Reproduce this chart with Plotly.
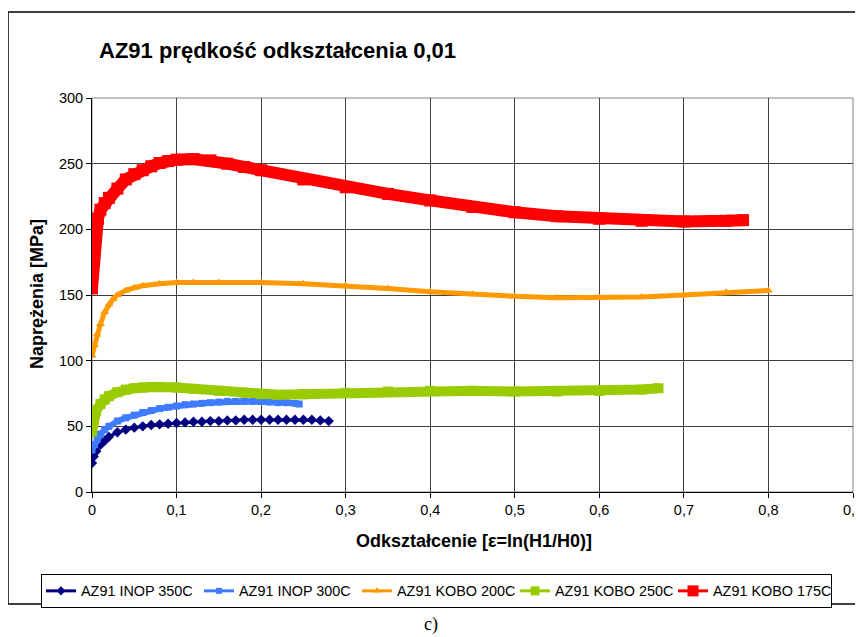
import plotly.graph_objects as go

# ---- data ----
names = ["AZ91 INOP 350C", "AZ91 INOP 300C", "AZ91 KOBO 200C", "AZ91 KOBO 250C", "AZ91 KOBO 175C"]

x_inop350 = [0, 0.002, 0.005, 0.01, 0.015, 0.02, 0.03, 0.04, 0.05, 0.06, 0.07, 0.08, 0.09, 0.1,
             0.11, 0.12, 0.13, 0.14, 0.15, 0.16, 0.17, 0.18, 0.19, 0.2, 0.21, 0.22, 0.23, 0.24,
             0.25, 0.26, 0.27, 0.28]
y_inop350 = [22, 27, 31, 36, 39, 42, 45.5, 47.5, 49, 50, 51, 51.5, 52, 52.5,
             53, 53.5, 53.5, 54, 54, 54.5, 54.5, 55, 55, 55, 55, 55, 55, 55,
             55, 55, 54.5, 54]

x_inop300 = [0, 0.003, 0.006, 0.01, 0.015, 0.02, 0.03, 0.04, 0.05, 0.06, 0.07, 0.08, 0.09, 0.1,
             0.11, 0.12, 0.13, 0.14, 0.15, 0.16, 0.17, 0.18, 0.19, 0.2, 0.21, 0.22, 0.23, 0.24, 0.245]
y_inop300 = [32, 36, 40, 44, 47.5, 50, 54, 56.5, 58.5, 60.5, 62, 63.5, 64.5, 65.5,
             66.5, 67, 67.5, 68, 68.5, 69, 69, 69, 69, 69, 68.5, 68, 68, 67.5, 67]

x_kobo200 = [0, 0.003, 0.006, 0.01, 0.015, 0.02, 0.025, 0.03, 0.04, 0.05, 0.06, 0.08, 0.1, 0.12,
             0.15, 0.2, 0.25, 0.3, 0.35, 0.4, 0.45, 0.5, 0.55, 0.6, 0.65, 0.7, 0.75, 0.8]
y_kobo200 = [104, 112, 120, 128, 137, 143, 147, 150, 153.5, 155.5, 157, 158.5, 159.5, 159.5,
             159.5, 159.5, 158.5, 157, 155, 152.5, 150.5, 149, 148, 148, 148.5, 150, 152, 153.5]

x_kobo250 = [0, 0.002, 0.005, 0.01, 0.015, 0.02, 0.03, 0.04, 0.05, 0.06, 0.07, 0.08, 0.1, 0.12,
             0.15, 0.18, 0.2, 0.22, 0.25, 0.3, 0.35, 0.4, 0.45, 0.5, 0.55, 0.6, 0.65, 0.67]
y_kobo250 = [46, 55, 62, 67, 70.5, 73, 76, 78, 79, 79.5, 80, 80, 79.5, 78.5,
             77, 75.5, 74.5, 74, 74.5, 75.5, 76.5, 77, 77, 76.5, 76.5, 77, 78, 79]

x_kobo175 = [0, 0.001, 0.002, 0.004, 0.007, 0.01, 0.015, 0.02, 0.03, 0.04, 0.05, 0.06, 0.07, 0.08,
             0.09, 0.1, 0.12, 0.14, 0.16, 0.18, 0.2, 0.25, 0.3, 0.35, 0.4, 0.45, 0.5, 0.55,
             0.6, 0.65, 0.7, 0.75, 0.77]
y_kobo175 = [155, 170, 185, 198, 208, 215, 220, 224, 231, 238, 242, 245, 248, 250.5,
             252, 253, 253.5, 252.5, 250, 247.5, 245, 238, 232, 227, 222, 217, 213, 210,
             208, 206.5, 206, 206.5, 207]

x_ticks = [0, 0.1, 0.2, 0.3, 0.4, 0.5, 0.6, 0.7, 0.8, 0.9]
x_ticklabels = ["0", "0,1", "0,2", "0,3", "0,4", "0,5", "0,6", "0,7", "0,8", "0,9"]
y_ticks = [0, 50, 100, 150, 200, 250, 300]

title_text = "AZ91 prędkość odkształcenia 0,01"
x_title = "Odkształcenie [ε=ln(H1/H0)]"
y_title = "Naprężenia [MPa]"
caption = "c)"

# ---- styles: (x, y, colour, symbol, marker size, band width, legend marker size) ----
series = [
    (x_inop350, y_inop350, "#000080", "diamond", 8, 3, 7),
    (x_inop300, y_inop300, "#3F7BFF", "square", 7, 6, 6),
    (x_kobo200, y_kobo200, "#FF9900", "triangle-up", 8, 5, 7),
    (x_kobo250, y_kobo250, "#99CC00", "square", 10, 10, 9),
    (x_kobo175, y_kobo175, "#FF0000", "square", 12, 12, 11),
]

FONT = "Liberation Sans, Arial, sans-serif"
fig = go.Figure()
for i, (name, (xs, ys, col, sym, msize, lw, lgs)) in enumerate(zip(names, series)):
    fig.add_trace(go.Scatter(
        x=xs, y=ys, name=name, mode="lines+markers", legendgroup=f"g{i}",
        showlegend=False,
        line=dict(color=col, width=lw),
        marker=dict(color=col, symbol=sym, size=msize, line=dict(width=0)),
    ))
for i, (name, (xs, ys, col, sym, msize, lw, lgs)) in enumerate(zip(names, series)):
    # legend entry: thin line with a marker, as in the reference legend
    fig.add_trace(go.Scatter(
        x=[None], y=[None], name=name, mode="lines+markers", legendgroup=f"g{i}",
        showlegend=True,
        line=dict(color=col, width=3),
        marker=dict(color=col, symbol=sym, size=lgs, line=dict(width=0)),
    ))

# page has an 8px body margin, so the figure is 8px smaller and starts at (8, 8)
W, H = 855, 629
L, R, T, B = 84, 10, 90, 145
PL, PR, PT, PB = 92, 853, 98, 492   # plot area in page pixels

def px(xp):
    return (xp - PL) / (PR - PL)

def py(yp):
    return (PB - yp) / (PB - PT)

fig.update_layout(
    width=W, height=H,
    margin=dict(l=L, r=R, t=T, b=B, autoexpand=False),
    paper_bgcolor="white", plot_bgcolor="white",
    font=dict(family=FONT, size=14.5, color="black"),
    showlegend=True,
    legend=dict(
        orientation="h", x=px(41), xanchor="left", y=py(574), yanchor="top",
        bordercolor="black", borderwidth=1, bgcolor="white",
        font=dict(family=FONT, size=14.4, color="black"),
        tracegroupgap=0, entrywidth=113, entrywidthmode="pixels",
    ),
    xaxis=dict(
        range=[0, 0.9], tickvals=x_ticks, ticktext=x_ticklabels,
        showgrid=True, gridcolor="#404040", gridwidth=1,
        showline=True, linecolor="black", linewidth=1,
        ticks="outside", ticklen=5, tickcolor="black",
        zeroline=False, tickfont=dict(size=14.5), ticklabeloverflow="allow",
        automargin=False,
    ),
    yaxis=dict(
        range=[0, 300], tickvals=y_ticks,
        showgrid=True, gridcolor="#404040", gridwidth=1,
        showline=True, linecolor="black", linewidth=1,
        ticks="outside", ticklen=5, tickcolor="black",
        zeroline=False, tickfont=dict(size=14.5), automargin=False,
    ),
    shapes=[
        # outer chart border
        dict(type="rect", xref="paper", yref="paper",
             x0=px(8), x1=px(880), y0=py(604), y1=py(12),
             line=dict(color="black", width=1.5), layer="below"),
        # plot area border
        dict(type="rect", xref="paper", yref="paper",
             x0=0, x1=1, y0=0, y1=1,
             line=dict(color="#808080", width=1), layer="below"),
    ],
    annotations=[
        dict(text=f"<b>{title_text}</b>", xref="paper", yref="paper",
             x=px(97), y=py(51), xanchor="left", yanchor="middle",
             showarrow=False, font=dict(family=FONT, size=22, color="black")),
        dict(text=f"<b>{x_title}</b>", xref="paper", yref="paper",
             x=px(474), y=py(541), xanchor="center", yanchor="middle",
             showarrow=False, font=dict(family=FONT, size=18, color="black")),
        dict(text=f"<b>{y_title}</b>", xref="paper", yref="paper",
             x=px(37), y=py(294), xanchor="center", yanchor="middle", textangle=-90,
             showarrow=False, font=dict(family=FONT, size=18, color="black")),
        dict(text=caption, xref="paper", yref="paper",
             x=px(431), y=py(624), xanchor="center", yanchor="middle",
             showarrow=False, font=dict(family="Liberation Serif, Times New Roman, serif", size=18, color="black")),
    ],
)

fig.write_html("out.html")
